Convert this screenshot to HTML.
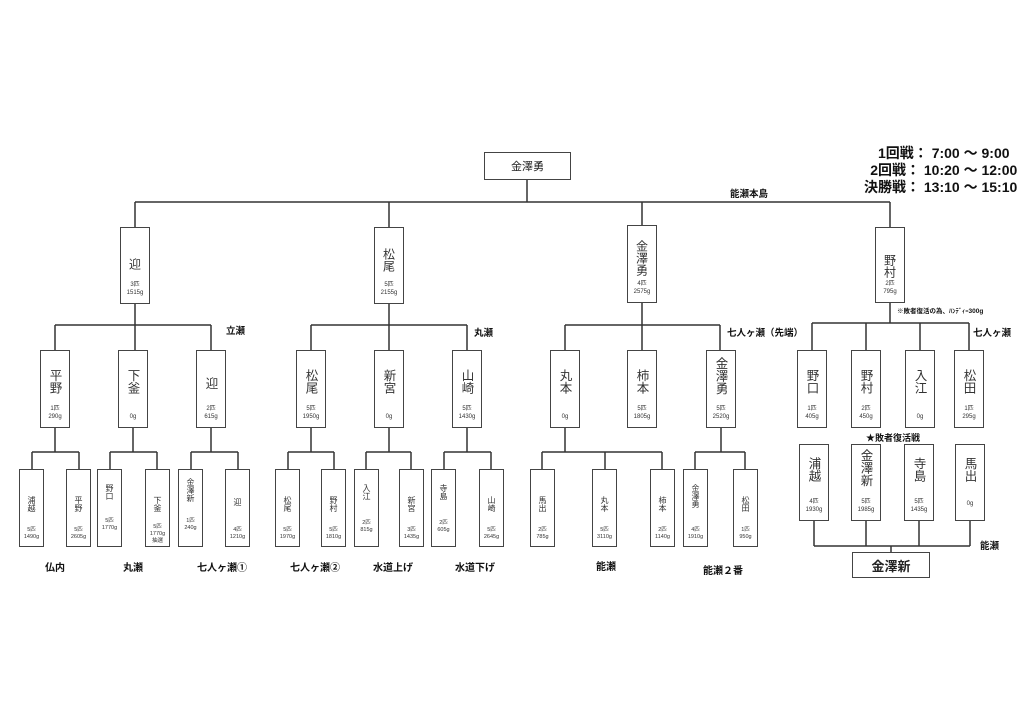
<!DOCTYPE html>
<html><head><meta charset="utf-8"><style>
body{margin:0;background:#fff;}
#c{position:relative;width:1024px;height:724px;overflow:hidden;font-family:"Liberation Sans","Noto Sans CJK JP",sans-serif;color:#222;}
.b{position:absolute;border:1.3px solid #444;box-sizing:border-box;background:#fff;display:flex;flex-direction:column;align-items:center;text-align:center;}
.n{writing-mode:vertical-rl;font-size:12.5px;letter-spacing:0px;color:#333;}
.s{font-size:6px;line-height:8px;color:#333;margin-top:auto !important;margin-bottom:6px;}
.b2 .n{font-size:12px;}
.b4 .n{font-size:8px;}
.b4 .s{font-size:5.5px;line-height:7px;margin-bottom:5px;}
.l{position:absolute;font-weight:bold;font-size:9.5px;white-space:nowrap;color:#111;}
.bl{position:absolute;font-weight:bold;font-size:10px;white-space:nowrap;color:#111;transform:translateX(-50%);}
svg{position:absolute;left:0;top:0;}
</style></head><body><div id="c">
<svg width="1024" height="724" fill="none" stroke="#333" stroke-width="1.5">
<path d="M527 180V202M135 202H890M135 202V227M389 202V227M642 202V225M890 202V227"/>
<path d="M135 304V350M55 325H211M55 325V350M211 325V350"/>
<path d="M389 304V350M311 325H467M311 325V350M467 325V350"/>
<path d="M642 303V350M565 325H720M565 325V350M720 325V350"/>
<path d="M890 303V323M812 323H969M812 323V350M866 323V350M920 323V350M969 323V350"/>
<path d="M55 428V452M32 452H79M32 452V469M79 452V469"/>
<path d="M133 428V452M110 452H157M110 452V469M157 452V469"/>
<path d="M211 428V452M191 452H238M191 452V469M238 452V469"/>
<path d="M311 428V452M288 452H334M288 452V469M334 452V469"/>
<path d="M389 428V452M366 452H411M366 452V469M411 452V469"/>
<path d="M467 428V452M444 452H491M444 452V469M491 452V469"/>
<path d="M565 428V452M542 452H662M542 452V469M605 452V469M662 452V469"/>
<path d="M721 428V452M695 452H745M695 452V469M745 452V469"/>
<path d="M814 521V546M866 521V546M919 521V546M970 521V546M814 546H970M891 546V552"/>
</svg>
<div class="b" style="left:484px;top:152px;width:87px;height:28px;justify-content:center;font-size:11px;">金澤勇</div>

<div class="b b2" style="left:120px;top:227px;width:30px;height:77px;"><div class="n" style="margin-top:30px">迎</div><div class="s">3匹<br>1515g</div></div>
<div class="b b2" style="left:374px;top:227px;width:30px;height:77px;"><div class="n" style="margin-top:20px">松尾</div><div class="s">5匹<br>2155g</div></div>
<div class="b b2" style="left:627px;top:225px;width:30px;height:78px;"><div class="n" style="margin-top:14px">金澤勇</div><div class="s">4匹<br>2575g</div></div>
<div class="b b2" style="left:875px;top:227px;width:30px;height:76px;"><div class="n" style="margin-top:26px">野村</div><div class="s">2匹<br>795g</div></div>

<div class="b" style="left:40px;top:350px;width:30px;height:78px;"><div class="n" style="margin-top:18px">平野</div><div class="s">1匹<br>290g</div></div>
<div class="b" style="left:118px;top:350px;width:30px;height:78px;"><div class="n" style="margin-top:18px">下釜</div><div class="s">0g</div></div>
<div class="b" style="left:196px;top:350px;width:30px;height:78px;"><div class="n" style="margin-top:26px">迎</div><div class="s">2匹<br>615g</div></div>
<div class="b" style="left:296px;top:350px;width:30px;height:78px;"><div class="n" style="margin-top:18px">松尾</div><div class="s">5匹<br>1950g</div></div>
<div class="b" style="left:374px;top:350px;width:30px;height:78px;"><div class="n" style="margin-top:18px">新宮</div><div class="s">0g</div></div>
<div class="b" style="left:452px;top:350px;width:30px;height:78px;"><div class="n" style="margin-top:18px">山崎</div><div class="s">5匹<br>1430g</div></div>
<div class="b" style="left:550px;top:350px;width:30px;height:78px;"><div class="n" style="margin-top:18px">丸本</div><div class="s">0g</div></div>
<div class="b" style="left:627px;top:350px;width:30px;height:78px;"><div class="n" style="margin-top:18px">柿本</div><div class="s">5匹<br>1805g</div></div>
<div class="b" style="left:706px;top:350px;width:30px;height:78px;"><div class="n" style="margin-top:6px">金澤勇</div><div class="s">5匹<br>2520g</div></div>
<div class="b" style="left:797px;top:350px;width:30px;height:78px;"><div class="n" style="margin-top:18px">野口</div><div class="s">1匹<br>405g</div></div>
<div class="b" style="left:851px;top:350px;width:30px;height:78px;"><div class="n" style="margin-top:18px">野村</div><div class="s">2匹<br>450g</div></div>
<div class="b" style="left:905px;top:350px;width:30px;height:78px;"><div class="n" style="margin-top:18px">入江</div><div class="s">0g</div></div>
<div class="b" style="left:954px;top:350px;width:30px;height:78px;"><div class="n" style="margin-top:18px">松田</div><div class="s">1匹<br>295g</div></div>

<div class="b b4" style="left:19px;top:469px;width:25px;height:78px;"><div class="n" style="margin-top:26px">浦越</div><div class="s">5匹<br>1490g</div></div>
<div class="b b4" style="left:66px;top:469px;width:25px;height:78px;"><div class="n" style="margin-top:26px">平野</div><div class="s">5匹<br>2605g</div></div>
<div class="b b4" style="left:97px;top:469px;width:25px;height:78px;"><div class="n" style="margin-top:14px">野口</div><div class="s" style="margin-bottom:14px">5匹<br>1770g</div></div>
<div class="b b4" style="left:145px;top:469px;width:25px;height:78px;"><div class="n" style="margin-top:26px">下釜</div><div class="s" style="margin-bottom:1px">5匹<br>1770g<br>抽選</div></div>
<div class="b b4" style="left:178px;top:469px;width:25px;height:78px;"><div class="n" style="margin-top:8px">金澤新</div><div class="s" style="margin-bottom:14px">1匹<br>240g</div></div>
<div class="b b4" style="left:225px;top:469px;width:25px;height:78px;"><div class="n" style="margin-top:28px">迎</div><div class="s">4匹<br>1210g</div></div>
<div class="b b4" style="left:275px;top:469px;width:25px;height:78px;"><div class="n" style="margin-top:26px">松尾</div><div class="s">5匹<br>1970g</div></div>
<div class="b b4" style="left:321px;top:469px;width:25px;height:78px;"><div class="n" style="margin-top:26px">野村</div><div class="s">5匹<br>1810g</div></div>
<div class="b b4" style="left:354px;top:469px;width:25px;height:78px;"><div class="n" style="margin-top:14px">入江</div><div class="s" style="margin-bottom:12px">2匹<br>815g</div></div>
<div class="b b4" style="left:399px;top:469px;width:25px;height:78px;"><div class="n" style="margin-top:26px">新宮</div><div class="s">3匹<br>1435g</div></div>
<div class="b b4" style="left:431px;top:469px;width:25px;height:78px;"><div class="n" style="margin-top:14px">寺島</div><div class="s" style="margin-bottom:12px">2匹<br>605g</div></div>
<div class="b b4" style="left:479px;top:469px;width:25px;height:78px;"><div class="n" style="margin-top:26px">山崎</div><div class="s">5匹<br>2645g</div></div>
<div class="b b4" style="left:530px;top:469px;width:25px;height:78px;"><div class="n" style="margin-top:26px">馬出</div><div class="s">2匹<br>785g</div></div>
<div class="b b4" style="left:592px;top:469px;width:25px;height:78px;"><div class="n" style="margin-top:26px">丸本</div><div class="s">5匹<br>3110g</div></div>
<div class="b b4" style="left:650px;top:469px;width:25px;height:78px;"><div class="n" style="margin-top:26px">柿本</div><div class="s">2匹<br>1140g</div></div>
<div class="b b4" style="left:683px;top:469px;width:25px;height:78px;"><div class="n" style="margin-top:14px">金澤勇</div><div class="s">4匹<br>1910g</div></div>
<div class="b b4" style="left:733px;top:469px;width:25px;height:78px;"><div class="n" style="margin-top:26px">松田</div><div class="s">1匹<br>950g</div></div>

<div class="b" style="left:799px;top:444px;width:30px;height:77px;"><div class="n" style="margin-top:12px">浦越</div><div class="s">4匹<br>1930g</div></div>
<div class="b" style="left:851px;top:444px;width:30px;height:77px;"><div class="n" style="margin-top:4px">金澤新</div><div class="s">5匹<br>1985g</div></div>
<div class="b" style="left:904px;top:444px;width:30px;height:77px;"><div class="n" style="margin-top:12px">寺島</div><div class="s">5匹<br>1435g</div></div>
<div class="b" style="left:955px;top:444px;width:30px;height:77px;"><div class="n" style="margin-top:12px">馬出</div><div class="s" style="margin-bottom:12px">0g</div></div>
<div class="b" style="left:852px;top:552px;width:78px;height:26px;justify-content:center;font-size:13px;font-weight:bold;">金澤新</div>

<div class="l" style="left:730px;top:186px;">能瀬本島</div>
<div class="l" style="left:226px;top:323px;">立瀬</div>
<div class="l" style="left:474px;top:325px;">丸瀬</div>
<div class="l" style="left:727px;top:325px;">七人ヶ瀬（先端）</div>
<div class="l" style="left:973px;top:325px;">七人ヶ瀬</div>
<div class="l" style="left:897px;top:305px;font-size:6.5px;">※敗者復活の為、ﾊﾝﾃﾞｨｰ300g</div>
<div class="l" style="left:866px;top:431px;font-size:9px;">★敗者復活戦</div>
<div class="l" style="left:980px;top:538px;">能瀬</div>
<div class="bl" style="left:55px;top:559px;">仏内</div>
<div class="bl" style="left:133px;top:559px;">丸瀬</div>
<div class="bl" style="left:222px;top:559px;">七人ヶ瀬①</div>
<div class="bl" style="left:315px;top:559px;">七人ヶ瀬②</div>
<div class="bl" style="left:393px;top:559px;">水道上げ</div>
<div class="bl" style="left:475px;top:559px;">水道下げ</div>
<div class="bl" style="left:606px;top:558px;">能瀬</div>
<div class="bl" style="left:723px;top:562px;">能瀬２番</div>
<div class="l" style="left:864px;top:145px;font-size:14px;line-height:17px;text-align:right;">1回戦： 7:00 〜 9:00&nbsp;&nbsp;<br>2回戦： 10:20 〜 12:00<br>決勝戦： 13:10 〜 15:10</div>
</div></body></html>
